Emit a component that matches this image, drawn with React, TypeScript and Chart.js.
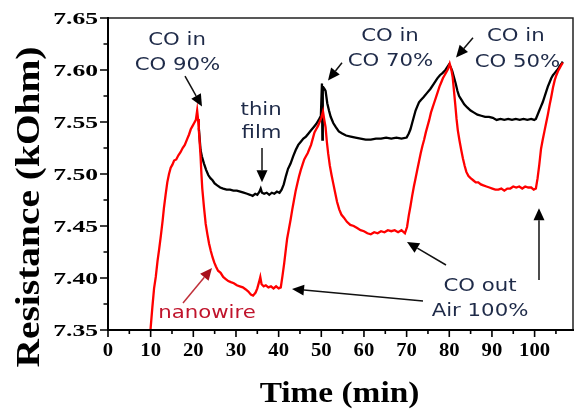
import React, { useEffect, useRef } from 'react';
import { Chart, registerables } from 'chart.js';

Chart.register(...registerables);

// ---- data ----
const RED_TIME = [9.6, 10.0, 10.4, 10.8, 11.2, 11.6, 12.0, 12.4, 12.8, 13.1, 13.5, 13.9, 14.3, 14.7, 15.1, 15.5, 16.0, 16.5, 17.0, 17.5, 18.0, 18.6, 19.0, 19.4, 19.8, 20.2, 20.6, 20.9, 21.1, 21.3, 21.5, 21.7, 21.9, 22.1, 22.5, 22.9, 23.3, 23.7, 24.1, 24.5, 24.9, 25.3, 25.8, 26.4, 27.0, 27.6, 28.2, 28.8, 29.5, 30.2, 30.9, 31.6, 32.3, 32.9, 33.5, 34.0, 34.6, 35.0, 35.4, 35.7, 36.0, 36.5, 37.0, 37.6, 38.2, 38.8, 39.4, 40.0, 40.5, 40.9, 41.3, 41.7, 42.0, 42.4, 42.8, 43.2, 43.6, 44.0, 44.4, 44.8, 45.2, 45.6, 46.0, 46.4, 46.8, 47.2, 47.6, 48.0, 48.4, 48.8, 49.2, 49.6, 50.0, 50.4, 50.7, 51.0, 51.3, 51.6, 52.0, 52.4, 52.8, 53.2, 53.7, 54.2, 54.7, 55.3, 56.0, 56.8, 57.6, 58.4, 59.2, 60.0, 60.8, 61.6, 62.4, 63.2, 64.0, 64.8, 65.6, 66.4, 67.2, 68.0, 68.8, 69.6, 70.1, 70.5, 70.9, 71.3, 71.7, 72.1, 72.5, 72.9, 73.3, 73.7, 74.1, 74.5, 74.9, 75.3, 75.7, 76.1, 76.5, 76.9, 77.3, 77.7, 78.1, 78.5, 78.9, 79.3, 79.7, 80.1, 80.5, 80.8, 81.1, 81.4, 81.7, 82.0, 82.4, 82.8, 83.2, 83.6, 84.0, 84.5, 85.0, 85.6, 86.2, 86.8, 87.4, 88.0, 88.7, 89.4, 90.1, 90.8, 91.5, 92.2, 92.9, 93.6, 94.3, 95.0, 95.7, 96.4, 97.1, 97.8, 98.5, 99.2, 99.8, 100.3, 100.7, 101.1, 101.5, 101.9, 102.3, 102.7, 103.1, 103.5, 103.9, 104.3, 104.7, 105.1, 105.5, 105.9, 106.3, 106.6];
const RED_RES = [7.330, 7.352, 7.372, 7.390, 7.401, 7.416, 7.428, 7.441, 7.455, 7.467, 7.480, 7.492, 7.500, 7.506, 7.509, 7.513, 7.514, 7.518, 7.521, 7.525, 7.528, 7.534, 7.538, 7.543, 7.546, 7.549, 7.552, 7.561, 7.553, 7.542, 7.530, 7.517, 7.500, 7.486, 7.468, 7.452, 7.442, 7.433, 7.426, 7.420, 7.415, 7.411, 7.407, 7.405, 7.401, 7.399, 7.397, 7.396, 7.395, 7.393, 7.392, 7.391, 7.389, 7.387, 7.384, 7.383, 7.386, 7.390, 7.396, 7.401, 7.394, 7.392, 7.393, 7.391, 7.392, 7.390, 7.392, 7.390, 7.391, 7.402, 7.414, 7.428, 7.438, 7.447, 7.456, 7.466, 7.475, 7.484, 7.491, 7.498, 7.504, 7.509, 7.514, 7.517, 7.520, 7.524, 7.528, 7.534, 7.540, 7.543, 7.546, 7.550, 7.554, 7.560, 7.552, 7.545, 7.531, 7.520, 7.508, 7.499, 7.491, 7.483, 7.473, 7.466, 7.461, 7.458, 7.454, 7.451, 7.450, 7.448, 7.446, 7.445, 7.443, 7.442, 7.444, 7.443, 7.445, 7.444, 7.446, 7.445, 7.446, 7.444, 7.446, 7.443, 7.449, 7.460, 7.469, 7.479, 7.488, 7.496, 7.504, 7.512, 7.520, 7.527, 7.533, 7.540, 7.546, 7.552, 7.559, 7.564, 7.569, 7.574, 7.579, 7.584, 7.588, 7.592, 7.595, 7.598, 7.601, 7.606, 7.600, 7.593, 7.580, 7.567, 7.553, 7.542, 7.532, 7.523, 7.515, 7.508, 7.502, 7.498, 7.496, 7.494, 7.492, 7.492, 7.490, 7.489, 7.488, 7.487, 7.486, 7.485, 7.485, 7.486, 7.484, 7.486, 7.486, 7.488, 7.487, 7.488, 7.486, 7.488, 7.487, 7.487, 7.485, 7.486, 7.496, 7.509, 7.524, 7.533, 7.541, 7.549, 7.557, 7.566, 7.574, 7.583, 7.590, 7.595, 7.599, 7.602, 7.605, 7.607];

const BLACK_TIME = [21.3, 21.5, 21.7, 22.0, 22.5, 23.0, 23.5, 24.0, 24.5, 25.0, 25.6, 26.3, 27.0, 27.8, 28.6, 29.4, 30.2, 31.0, 31.8, 32.6, 33.3, 33.9, 34.5, 35.0, 35.5, 35.8, 36.1, 36.6, 37.2, 37.8, 38.4, 39.0, 39.6, 40.2, 40.7, 41.2, 41.7, 42.2, 42.8, 43.4, 44.0, 44.6, 45.2, 45.8, 46.4, 47.0, 47.6, 48.2, 48.8, 49.4, 49.9, 50.15, 50.25, 50.35, 50.7, 51.0, 51.4, 51.8, 52.2, 52.8, 53.4, 54.1, 54.9, 55.8, 56.9, 58.0, 59.2, 60.4, 61.6, 62.8, 64.0, 65.2, 66.4, 67.6, 68.8, 70.0, 70.5, 70.9, 71.3, 71.7, 72.1, 72.5, 72.9, 73.3, 74.0, 74.8, 75.6, 76.4, 77.2, 77.8, 78.4, 79.1, 79.9, 80.3, 80.7, 81.1, 81.5, 81.9, 82.3, 82.9, 83.5, 84.2, 85.0, 85.8, 86.6, 87.5, 88.4, 89.3, 90.2, 91.1, 92.0, 92.9, 93.8, 94.7, 95.6, 96.5, 97.4, 98.3, 99.2, 99.9, 100.3, 100.7, 101.1, 101.5, 101.9, 102.3, 102.7, 103.1, 103.5, 103.9, 104.3, 104.7, 105.1, 105.5, 105.9, 106.3, 106.6];
const BLACK_RES = [7.544, 7.533, 7.523, 7.517, 7.510, 7.504, 7.499, 7.496, 7.494, 7.491, 7.489, 7.487, 7.486, 7.485, 7.485, 7.484, 7.484, 7.483, 7.482, 7.481, 7.480, 7.479, 7.481, 7.480, 7.483, 7.486, 7.482, 7.481, 7.482, 7.480, 7.482, 7.481, 7.483, 7.482, 7.485, 7.490, 7.498, 7.505, 7.510, 7.517, 7.523, 7.528, 7.531, 7.534, 7.536, 7.539, 7.542, 7.545, 7.548, 7.552, 7.556, 7.587, 7.533, 7.584, 7.582, 7.580, 7.568, 7.561, 7.555, 7.549, 7.545, 7.541, 7.539, 7.537, 7.536, 7.535, 7.534, 7.533, 7.533, 7.534, 7.534, 7.535, 7.534, 7.535, 7.534, 7.535, 7.539, 7.543, 7.549, 7.555, 7.561, 7.565, 7.569, 7.571, 7.574, 7.578, 7.582, 7.587, 7.592, 7.595, 7.597, 7.600, 7.605, 7.603, 7.599, 7.593, 7.587, 7.580, 7.575, 7.571, 7.567, 7.564, 7.561, 7.559, 7.557, 7.556, 7.555, 7.555, 7.554, 7.552, 7.553, 7.552, 7.553, 7.552, 7.553, 7.552, 7.553, 7.552, 7.553, 7.552, 7.553, 7.557, 7.561, 7.565, 7.569, 7.574, 7.579, 7.584, 7.588, 7.592, 7.595, 7.597, 7.599, 7.601, 7.604, 7.606, 7.608];

const X_TICKS = [0, 10, 20, 30, 40, 50, 60, 70, 80, 90, 100];
const X_MINOR = [5, 15, 25, 35, 45, 55, 65, 75, 85, 95, 105];
const Y_TICKS = [7.35, 7.40, 7.45, 7.50, 7.55, 7.60, 7.65];
const Y_MINOR = [7.375, 7.425, 7.475, 7.525, 7.575, 7.625];
const X_TITLE = 'Time (min)';
const Y_TITLE = 'Resistance (kOhm)';

// annotation text, anchored in data coordinates
const NOTE_TEXT = ['CO in', 'CO 90%', 'thin', 'film', 'CO in', 'CO 70%', 'CO in', 'CO 50%', 'CO out', 'Air 100%', 'nanowire'];
const NOTE_T = [16.2, 16.3, 35.9, 36.0, 66.1, 66.2, 95.6, 96.0, 87.2, 87.2, 23.2];
const NOTE_R = [7.624, 7.600, 7.557, 7.535, 7.628, 7.604, 7.628, 7.603, 7.3875, 7.3635, 7.3615];

// arrows: from (t1,r1) to (t2,r2)
const ARROW_T1 = [18.05, 36.1, 54.85, 85.56, 79.23, 73.84, 101.03, 17.58];
const ARROW_R1 = [7.594, 7.525, 7.607, 7.631, 7.4125, 7.378, 7.398, 7.376];
const ARROW_T2 = [22.03, 36.1, 51.57, 81.58, 70.09, 43.13, 101.03, 24.38];
const ARROW_R2 = [7.565, 7.492, 7.590, 7.612, 7.4346, 7.3894, 7.467, 7.4096];

const NAVY = '#1e2a48';
const NOTE_RED = '#c0142c';

function sText(ctx: CanvasRenderingContext2D, text: string, x: number, y: number, font: string, color: string, sx: number, align: CanvasTextAlign) {
  ctx.save();
  ctx.translate(x, y);
  ctx.scale(sx, 1);
  ctx.font = font;
  ctx.fillStyle = color;
  ctx.textAlign = align;
  ctx.textBaseline = 'alphabetic';
  ctx.fillText(text, 0, 0);
  ctx.restore();
}

function arrow(ctx: CanvasRenderingContext2D, x1: number, y1: number, x2: number, y2: number, lineColor: string, headColor: string) {
  const a = Math.atan2(y2 - y1, x2 - x1);
  const hl = 12, hw = 5.5;
  const bx = x2 - hl * Math.cos(a), by = y2 - hl * Math.sin(a);
  ctx.save();
  ctx.strokeStyle = lineColor;
  ctx.lineWidth = 1.5;
  ctx.beginPath();
  ctx.moveTo(x1, y1);
  ctx.lineTo(bx, by);
  ctx.stroke();
  ctx.fillStyle = headColor;
  ctx.beginPath();
  ctx.moveTo(x2, y2);
  ctx.lineTo(bx + hw * Math.sin(a), by - hw * Math.cos(a));
  ctx.lineTo(bx - hw * Math.sin(a), by + hw * Math.cos(a));
  ctx.closePath();
  ctx.fill();
  ctx.restore();
}

const framePlugin = {
  id: 'frameAndNotes',
  afterDraw(chart: any) {
    const ctx: CanvasRenderingContext2D = chart.ctx;
    const xs = chart.scales.x;
    const ys = chart.scales.y;
    const { left, right, top, bottom } = chart.chartArea;
    ctx.save();
    // frame
    ctx.strokeStyle = '#222';
    ctx.lineWidth = 1.5;
    ctx.beginPath();
    ctx.moveTo(left, top);
    ctx.lineTo(right, top);
    ctx.lineTo(right, bottom);
    ctx.stroke();
    ctx.strokeStyle = '#000';
    ctx.lineWidth = 2;
    ctx.beginPath();
    ctx.moveTo(left, top - 1);
    ctx.lineTo(left, bottom);
    ctx.lineTo(right + 1, bottom);
    ctx.stroke();
    // ticks
    ctx.lineWidth = 1.6;
    ctx.beginPath();
    Y_TICKS.forEach((v) => { const y = ys.getPixelForValue(v); ctx.moveTo(left - 8, y); ctx.lineTo(left, y); });
    Y_MINOR.forEach((v) => { const y = ys.getPixelForValue(v); ctx.moveTo(left - 4.5, y); ctx.lineTo(left, y); });
    X_TICKS.forEach((v) => { const x = xs.getPixelForValue(v); ctx.moveTo(x, bottom); ctx.lineTo(x, bottom + 7); });
    X_MINOR.forEach((v) => { const x = xs.getPixelForValue(v); ctx.moveTo(x, bottom); ctx.lineTo(x, bottom + 4); });
    ctx.stroke();
    // tick labels
    const serif = '"Liberation Serif", "Times New Roman", serif';
    Y_TICKS.forEach((v) => {
      sText(ctx, v.toFixed(2), left - 10, ys.getPixelForValue(v) + 5.5, `bold 16px ${serif}`, '#000', 1.6, 'right');
    });
    X_TICKS.forEach((v) => {
      sText(ctx, String(v), xs.getPixelForValue(v), bottom + 26, `bold 18px ${serif}`, '#000', 1.15, 'center');
    });
    // axis titles
    sText(ctx, X_TITLE, (left + right) / 2 - 1, 402, `bold 29px ${serif}`, '#000', 1.15, 'center');
    ctx.save();
    ctx.translate(39, (top + bottom) / 2 + 33);
    ctx.rotate(-Math.PI / 2);
    ctx.scale(1.16, 1);
    ctx.font = `bold 34px ${serif}`;
    ctx.fillStyle = '#000';
    ctx.textAlign = 'center';
    ctx.textBaseline = 'alphabetic';
    ctx.fillText(Y_TITLE, 0, 0);
    ctx.restore();
    // annotations
    const sans = '"DejaVu Sans", Verdana, sans-serif';
    NOTE_TEXT.forEach((t, i) => {
      const col = t === 'nanowire' ? NOTE_RED : NAVY;
      sText(ctx, t, xs.getPixelForValue(NOTE_T[i]), ys.getPixelForValue(NOTE_R[i]), `17px ${sans}`, col, 1.25, 'center');
    });
    ARROW_T1.forEach((_, i) => {
      const isRed = i === ARROW_T1.length - 1;
      arrow(
        ctx,
        xs.getPixelForValue(ARROW_T1[i]), ys.getPixelForValue(ARROW_R1[i]),
        xs.getPixelForValue(ARROW_T2[i]), ys.getPixelForValue(ARROW_R2[i]),
        isRed ? '#c0303a' : '#111', isRed ? '#a8101c' : '#000'
      );
    });
    ctx.restore();
  },
};

export default function App() {
  const ref = useRef<HTMLCanvasElement | null>(null);
  useEffect(() => {
    if (!ref.current) return;
    const red = RED_TIME.map((t, i) => ({ x: t, y: RED_RES[i] }));
    const black = BLACK_TIME.map((t, i) => ({ x: t, y: BLACK_RES[i] }));
    const chart = new Chart(ref.current, {
      type: 'line',
      data: {
        datasets: [
          { label: 'nanowire', data: red, borderColor: '#ff0000', borderWidth: 2.3, pointRadius: 0, tension: 0, clip: 0 } as any,
          { label: 'thin film', data: black, borderColor: '#000000', borderWidth: 2.3, pointRadius: 0, tension: 0, clip: 0 } as any,
        ],
      },
      options: {
        animation: false,
        responsive: false,
        devicePixelRatio: 1,
        layout: { padding: { left: 108, right: 7, top: 18, bottom: 80 } },
        scales: {
          x: { type: 'linear', min: 0, max: 109, display: false },
          y: { type: 'linear', min: 7.35, max: 7.65, display: false },
        },
        plugins: { legend: { display: false }, tooltip: { enabled: false } },
      },
      plugins: [framePlugin],
    });
    if ((document as any).fonts && (document as any).fonts.ready) {
      (document as any).fonts.ready.then(() => { try { chart.draw(); } catch (e) { /* ignore */ } });
    }
    return () => chart.destroy();
  }, []);
  return (
    <div style={{ position: 'fixed', left: 0, top: 0, width: 580, height: 410, background: '#fff' }}>
      <canvas ref={ref} width={580} height={410} style={{ display: 'block' }} />
    </div>
  );
}
